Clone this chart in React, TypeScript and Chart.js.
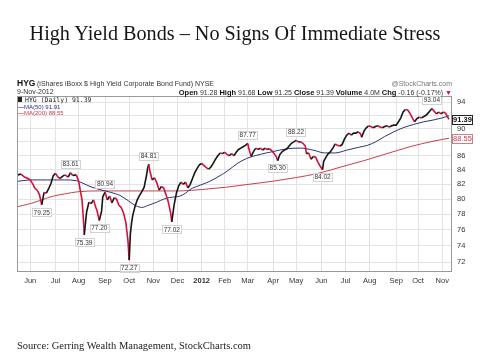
import React, { useEffect, useRef } from "react";
import { Chart, registerables } from "chart.js";

Chart.register(...registerables);

const TITLE = "High Yield Bonds – No Signs Of Immediate Stress";
const SOURCE = "Source: Gerring Wealth Management, StockCharts.com";
const SYMBOL = "HYG";
const FUND_NAME = "(iShares iBoxx $ High Yield Corporate Bond Fund) NYSE";
const QUOTE_DATE = "9-Nov-2012";
const QUOTE_LABELS = ["Open", "High", "Low", "Close", "Volume", "Chg"];
const QUOTE_VALUES = ["91.28", "91.68", "91.25", "91.39", "4.0M", "-0.16 (-0.17%)"];
const WATERMARK = "@StockCharts.com";
const LEGEND_PRICE = "HYG (Daily) 91.39";
const LEGEND_MA50 = "MA(50) 91.91";
const LEGEND_MA200 = "MA(200) 88.55";

// trading-day index (0 = 1 Jun 2011) of each month start, and its label
const MONTH_START = [0, 22, 42, 65, 86, 107, 128, 149, 169, 189, 211, 231, 253, 274, 295, 318, 337, 358];
const MONTH_LABELS = ["Jun", "Jul", "Aug", "Sep", "Oct", "Nov", "Dec", "2012", "Feb", "Mar", "Apr", "May", "Jun", "Jul", "Aug", "Sep", "Oct", "Nov"];
const Y_TICKS = [72, 74, 76, 78, 80, 82, 84, 86, 88, 90, 92, 94];
// tick labels covered by the last-value boxes
const Y_HIDDEN_LABELS = [88, 92];

// [trading day, close]
const PRICE: [number, number][] = [
  [-11, 83.3], [-8, 83.4], [-5, 83.0], [-2, 82.8], [0, 82.6], [2, 82.1], [4, 81.5], [6, 81.2], [8, 80.6], [10, 79.25],
  [12, 80.9], [14, 80.8], [16, 81.4], [18, 82.1], [20, 83.2], [22, 83.5], [24, 83.0], [26, 82.8], [28, 83.1], [30, 83.3],
  [33, 83.0], [35, 83.61], [37, 83.2], [40, 83.3], [42, 82.5], [43, 81.6], [45, 79.9], [46, 77.8], [47, 75.39], [48, 76.9],
  [49, 78.3], [51, 79.6], [53, 79.4], [55, 79.9], [57, 78.9], [58, 78.5], [60, 77.2], [62, 78.4], [63, 80.3], [65, 80.94],
  [67, 79.9], [69, 80.4], [71, 79.5], [73, 80.2], [75, 80.0], [77, 79.2], [79, 78.9], [81, 78.2], [83, 77.0], [84, 75.8],
  [85, 74.5], [86, 72.27], [87, 75.5], [88, 76.8], [89, 77.8], [91, 79.0], [93, 79.9], [95, 80.5], [97, 81.0], [99, 81.6],
  [101, 83.2], [102, 84.2], [103, 84.81], [104, 83.8], [106, 82.6], [108, 82.9], [110, 82.2], [112, 81.2], [114, 81.7], [116, 81.5],
  [118, 80.6], [120, 79.6], [122, 78.2], [123, 77.02], [125, 79.2], [127, 80.8], [129, 81.8], [131, 82.3], [133, 82.0], [135, 82.3],
  [137, 81.5], [139, 82.0], [141, 82.8], [143, 83.6], [145, 84.2], [147, 84.7], [149, 84.9], [151, 84.6], [153, 84.3], [155, 84.1],
  [157, 84.4], [159, 84.9], [161, 85.5], [163, 86.0], [165, 86.4], [167, 86.3], [169, 86.5], [171, 86.2], [173, 86.0], [175, 86.3],
  [177, 86.0], [179, 86.5], [181, 86.9], [183, 87.1], [185, 87.3], [187, 87.5], [189, 87.77], [190, 87.0], [192, 85.9], [194, 86.6],
  [196, 87.1], [198, 86.9], [200, 87.1], [202, 86.8], [204, 87.1], [206, 86.9], [208, 87.0], [210, 86.7], [212, 86.3], [214, 85.8],
  [215, 85.3], [217, 86.2], [219, 86.6], [221, 86.8], [223, 87.0], [225, 87.4], [227, 87.8], [229, 88.0], [231, 88.22], [233, 88.0],
  [235, 88.0], [237, 87.8], [239, 87.4], [240, 86.3], [242, 86.4], [244, 85.5], [246, 85.9], [248, 85.8], [250, 85.1], [252, 84.5],
  [254, 84.02], [255, 85.2], [257, 85.8], [259, 86.3], [261, 86.6], [263, 87.1], [265, 87.7], [267, 87.5], [269, 87.4], [271, 87.6],
  [273, 88.4], [275, 89.0], [277, 89.3], [279, 89.0], [281, 89.3], [283, 89.3], [285, 89.5], [287, 89.2], [288, 88.7], [290, 89.6],
  [292, 90.1], [294, 90.4], [296, 90.3], [298, 90.1], [300, 90.3], [302, 90.4], [304, 90.2], [306, 90.1], [308, 90.3], [310, 90.4],
  [312, 90.2], [314, 90.4], [316, 90.5], [318, 90.5], [320, 91.0], [322, 91.6], [324, 92.5], [326, 92.9], [328, 92.8], [330, 92.3],
  [332, 91.6], [334, 91.0], [336, 91.5], [338, 91.7], [340, 91.6], [342, 91.8], [344, 92.0], [346, 92.4], [349, 93.04], [351, 92.6],
  [353, 92.2], [355, 92.5], [357, 92.2], [359, 92.5], [361, 92.3], [362, 92.0], [363, 91.6], [364, 91.39],
];

// [trading day, 50-day moving average]
const MA50: [number, number][] = [
  [-11, 82.4], [0, 82.6], [15, 82.6], [30, 82.6], [40, 82.5], [45, 82.2], [52, 81.7], [60, 81.3], [70, 80.9], [78, 80.5],
  [85, 79.8], [92, 79.1], [97, 78.9], [103, 79.2], [110, 79.6], [116, 80.0], [121, 80.2], [126, 80.3], [130, 80.4], [135, 80.8],
  [139, 81.3], [148, 81.9], [156, 82.4], [165, 83.2], [171, 83.8], [180, 84.9], [188, 85.6], [200, 86.2], [211, 86.6], [223, 87.0],
  [235, 87.1], [246, 86.8], [256, 86.4], [265, 86.4], [275, 86.8], [285, 87.2], [293, 87.5], [300, 88.0], [308, 88.8], [316, 89.5],
  [324, 90.1], [333, 90.6], [342, 91.0], [351, 91.3], [358, 91.6], [364, 91.91],
];

// [trading day, 200-day moving average]
const MA200: [number, number][] = [
  [-11, 79.0], [0, 79.4], [10, 79.9], [20, 80.4], [30, 80.7], [42, 81.0], [60, 81.1], [90, 81.1], [110, 81.1], [130, 81.1],
  [150, 81.3], [170, 81.6], [190, 82.0], [210, 82.4], [230, 82.9], [250, 83.5], [270, 84.4], [290, 85.3], [310, 86.3], [330, 87.3],
  [350, 88.1], [364, 88.55],
];

// annotated highs / lows: [trading day, value, 1 = high (label above) / 0 = low (label below)]
const EXTREMES: [number, number, number][] = [
  [10, 79.25, 0], [35, 83.61, 1], [47, 75.39, 0], [60, 77.2, 0], [65, 80.94, 1], [86, 72.27, 0], [103, 84.81, 1],
  [123, 77.02, 0], [189, 87.77, 1], [215, 85.3, 0], [231, 88.22, 1], [254, 84.02, 0], [349, 93.04, 1],
];

const LAST_CLOSE = 91.39;
const LAST_MA200 = 88.55;

const UP = "#151515";
const DOWN = "#d0123c";
const MA50_COLOR = "#2f3274";
const MA200_COLOR = "#c9404f";
const SANS = "'Liberation Sans', Arial, sans-serif";

const overlayPlugin = {
  id: "overlay",
  afterDraw(chart: any) {
    const { ctx, chartArea } = chart;
    const xs = chart.scales.x;
    const ys = chart.scales.y;
    ctx.save();
    // frame
    ctx.strokeStyle = "#9a9a9a";
    ctx.lineWidth = 1;
    ctx.strokeRect(Math.round(chartArea.left) + 0.5, Math.round(chartArea.top) + 0.5,
      Math.round(chartArea.right - chartArea.left) - 1, Math.round(chartArea.bottom - chartArea.top) - 1);
    // extreme labels
    ctx.font = `6.5px ${SANS}`;
    ctx.textAlign = "center";
    ctx.textBaseline = "middle";
    EXTREMES.forEach(([d, v, hi]) => {
      const x = xs.getPixelForValue(d);
      const y = ys.getPixelForValue(v) + (hi ? -8.5 : 7.5);
      const t = v.toFixed(2);
      const w = ctx.measureText(t).width + 3;
      ctx.fillStyle = "rgba(255,255,255,0.9)";
      ctx.fillRect(x - w / 2, y - 4, w, 8);
      ctx.strokeStyle = "#d2d2d2";
      ctx.strokeRect(Math.round(x - w / 2) + 0.5, Math.round(y - 4) + 0.5, Math.round(w), 8);
      ctx.fillStyle = "#333";
      ctx.fillText(t, x, y + 0.5);
    });
    // value boxes on the right axis
    const box = (v: number, stroke: string, color: string, bold: boolean) => {
      const y = ys.getPixelForValue(v);
      const x0 = Math.round(chartArea.right) + 0.5;
      ctx.fillStyle = "#fff";
      ctx.fillRect(x0, Math.round(y - 4.5) + 0.5, 20, 9);
      ctx.strokeStyle = stroke;
      ctx.strokeRect(x0, Math.round(y - 4.5) + 0.5, 20, 9);
      ctx.fillStyle = color;
      ctx.font = `${bold ? "bold " : ""}7.5px ${SANS}`;
      ctx.textAlign = "center";
      ctx.fillText(v.toFixed(2), x0 + 10, y + 0.5);
    };
    box(LAST_MA200, "#d87a84", MA200_COLOR, false);
    box(LAST_CLOSE, "#222", "#111", true);
    ctx.restore();
  },
};

const abs = (extra: React.CSSProperties): React.CSSProperties => ({
  position: "absolute",
  whiteSpace: "nowrap",
  lineHeight: 1,
  margin: 0,
  ...extra,
});

export default function App() {
  const ref = useRef<HTMLCanvasElement>(null);

  useEffect(() => {
    const canvas = ref.current;
    if (!canvas) return;
    const chart = new Chart(canvas, {
      type: "line",
      data: {
        datasets: [
          {
            label: "HYG",
            data: PRICE.map(([x, y]) => ({ x, y })),
            borderColor: UP,
            borderWidth: 1.6,
            pointRadius: 0,
            tension: 0,
            segment: {
              borderColor: (c: any) => (c.p1.parsed.y < c.p0.parsed.y ? DOWN : UP),
            },
          },
          {
            label: "MA(50)",
            data: MA50.map(([x, y]) => ({ x, y })),
            borderColor: MA50_COLOR,
            borderWidth: 1,
            pointRadius: 0,
            cubicInterpolationMode: "monotone",
          },
          {
            label: "MA(200)",
            data: MA200.map(([x, y]) => ({ x, y })),
            borderColor: MA200_COLOR,
            borderWidth: 1,
            pointRadius: 0,
            cubicInterpolationMode: "monotone",
          },
        ],
      } as any,
      options: {
        responsive: false,
        maintainAspectRatio: false,
        animation: false,
        events: [],
        layout: { padding: { left: 17, top: 96, right: 0, bottom: 68 } },
        plugins: { legend: { display: false }, tooltip: { enabled: false } },
        scales: {
          x: {
            type: "linear",
            min: -11.5,
            max: 366.5,
            bounds: "data",
            afterBuildTicks: (s: any) => {
              s.ticks = MONTH_START.map((v) => ({ value: v }));
            },
            afterFit: (s: any) => {
              s.height = 20;
            },
            grid: { color: "#e3e3e3", drawTicks: false, lineWidth: 1 },
            border: { display: false },
            ticks: {
              autoSkip: false,
              maxRotation: 0,
              padding: 4,
              color: "#333",
              font: (c: any) => ({
                family: SANS,
                size: 7.5,
                weight: c.tick && c.tick.label === "2012" ? "bold" : "normal",
              }),
              callback: (v: any) => {
                const i = MONTH_START.indexOf(Number(v));
                return i >= 0 ? MONTH_LABELS[i] : "";
              },
            },
          },
          y: {
            type: "logarithmic",
            position: "right",
            min: 70.85,
            max: 95.0,
            bounds: "data",
            afterBuildTicks: (s: any) => {
              s.ticks = Y_TICKS.map((v) => ({ value: v }));
            },
            afterFit: (s: any) => {
              s.width = 28;
            },
            grid: { color: "#e3e3e3", drawTicks: false, lineWidth: 1 },
            border: { display: false },
            ticks: {
              autoSkip: false,
              padding: 5,
              color: "#333",
              font: { family: SANS, size: 7.5 },
              callback: (v: any) => (Y_HIDDEN_LABELS.includes(Number(v)) ? "" : String(v)),
            },
          },
        },
      } as any,
      plugins: [overlayPlugin],
    });
    return () => chart.destroy();
  }, []);

  return (
    <div style={{ position: "absolute", left: 0, top: 0, width: 480, height: 360, background: "#fff", overflow: "hidden" }}>
      <canvas ref={ref} width={480} height={360} style={{ position: "absolute", left: 0, top: 0, width: 480, height: 360 }} />
      <div style={abs({ left: 0, width: 470, top: 22.5, textAlign: "center", fontFamily: "'Liberation Serif', serif", fontSize: 20.2, color: "#161616" })}>
        {TITLE}
      </div>
      <div style={abs({ left: 17, top: 79, fontFamily: SANS, fontSize: 8.5, fontWeight: "bold", color: "#111" })}>{SYMBOL}</div>
      <div style={abs({ left: 37, top: 80, fontFamily: SANS, fontSize: 7, color: "#333" })}>{FUND_NAME}</div>
      <div style={abs({ right: 28, top: 80, fontFamily: SANS, fontSize: 7, color: "#777" })}>{WATERMARK}</div>
      <div style={abs({ left: 17, top: 87.5, fontFamily: SANS, fontSize: 7, color: "#333" })}>{QUOTE_DATE}</div>
      <div style={abs({ right: 28, top: 88.5, fontFamily: SANS, fontSize: 7, color: "#333" })}>
        {QUOTE_LABELS.map((l, i) => (
          <span key={l}>
            <b style={{ color: "#111", fontSize: 7.5 }}>{l}</b> {QUOTE_VALUES[i]}{" "}
          </span>
        ))}
        <span style={{ color: DOWN }}>▼</span>
      </div>
      <div style={abs({ left: 18, top: 96.5, fontFamily: "'DejaVu Sans Mono', monospace", fontSize: 6.5, color: "#222" })}>
        <span style={{ display: "inline-block", width: 4, height: 5, background: "#222", marginRight: 3 }} />
        {LEGEND_PRICE}
      </div>
      <div style={abs({ left: 18, top: 103.5, fontFamily: SANS, fontSize: 6, color: MA50_COLOR })}>
        <span style={{ fontWeight: "bold" }}>—</span>{LEGEND_MA50}
      </div>
      <div style={abs({ left: 18, top: 110, fontFamily: SANS, fontSize: 6, color: MA200_COLOR })}>
        <span style={{ fontWeight: "bold" }}>—</span>{LEGEND_MA200}
      </div>
      <div style={abs({ left: 17, top: 341, fontFamily: "'Liberation Serif', serif", fontSize: 10.5, color: "#1b1b1b" })}>{SOURCE}</div>
    </div>
  );
}
